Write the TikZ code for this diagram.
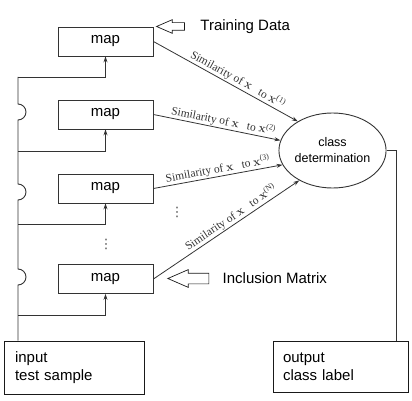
\documentclass[tikz,border=0pt]{standalone}
\usepackage[no-math]{fontspec}
\setmainfont{Liberation Sans}
\newfontfamily\simfont{Liberation Serif}
\newfontfamily\symfont{DejaVu Sans}
\usetikzlibrary{positioning, shapes.geometric, shapes.arrows, arrows.meta}

\newcommand{\simto}[1]{Similarity of $\mathbf{x}$\ \ \ to $\mathbf{x}$\textsuperscript{(#1)}}

\begin{document}
\begin{tikzpicture}[
        x=1pt, y=-1pt,
        every node/.style={font=\fontsize{15}{18}\selectfont},
        mapbox/.style={draw=black!80, line width=0.9pt, minimum width=95pt, minimum height=29pt, inner sep=0pt},
        iobox/.style={draw=black!90, line width=0.9pt, minimum width=140pt, minimum height=53pt, inner xsep=11pt, text width=118pt, align=left},
        hollow/.style={single arrow, draw=black!90, line width=0.7pt, shape border rotate=180, inner xsep=0pt, single arrow tip angle=47},
        arrow/.style={-{Stealth[length=6pt, width=4pt]}, line width=0.8pt, black!80},
        wire/.style={line width=0.9pt, black!80},
        simlabel/.style={font=\simfont\fontsize{11.5}{13}\selectfont, sloped, above, inner sep=1pt},
        dots/.style={font=\symfont\fontsize{13}{13}\selectfont, text=black!70, inner sep=0pt}
    ]
    \useasboundingbox (0,0) rectangle (412,401);

    % Nodes -----------------------------------------------
    \node[mapbox] (map1) at (105.5,41.5)  {map};
    \node[mapbox] (map2) at (105.5,114.5) {map};
    \node[mapbox] (map3) at (105.5,188.5) {map};
    \node[mapbox] (map4) at (105.5,279)   {map};
    \node[ellipse, draw=black!80, line width=0.9pt, minimum width=89pt, minimum height=75pt,
          inner sep=0pt, align=center, font=\fontsize{12.5}{16}\selectfont] (cls) at (332.5,150.5) {class\\determination};
    \node[iobox] (input) at (74,367.5) {input\\test sample};
    \node[iobox, minimum width=135pt, minimum height=51pt, inner xsep=10pt, text width=115pt] (output) at (340.5,366.5) {output\\class label};

    \node[hollow, minimum height=28pt, minimum width=13pt, inner ysep=3.5pt, single arrow head extend=3pt] (trainarrow) at (175,26.5) {};
    \node[right=12pt of trainarrow] (train) {Training Data};
    \node[hollow, minimum height=41pt, minimum width=17pt, inner ysep=5pt, single arrow head extend=3.5pt] (inclarrow) at (194.5,278.5) {};
    \node[right=10pt of inclarrow] (incl) {Inclusion Matrix};

    \node[dots] (vdots1) at (106,244) {⋮};
    \node[dots] (vdots2) at (177,212) {⋮};

    % input bus with hops
    \coordinate (b1) at (18,77);
    \coordinate (b2) at (18,151);
    \coordinate (b3) at (18,224);
    \coordinate (b4) at (18,315);
    \coordinate (hop1) at (18,104);
    \coordinate (hop2) at (18,184);
    \coordinate (hop3) at (18,269);

    \draw[wire] (b1) -- (hop1) arc[start angle=90, end angle=-90, radius=8pt]
                -- (hop2) arc[start angle=90, end angle=-90, radius=8pt]
                -- (hop3) arc[start angle=90, end angle=-90, radius=8pt]
                -- (b1 |- input.north);

    \draw[arrow] (b1) -| (map1.south);
    \draw[arrow] (b2) -| (map2.south);
    \draw[arrow] (b3) -| (map3.south);
    \draw[arrow] (b4) -| (map4.south);

    % similarities
    \draw[arrow] (map1.east) -- node[simlabel, pos=0.56] {\simto{1}} (cls.140);
    \draw[arrow] (map2.east) -- node[simlabel, pos=0.54] {\simto{2}} (cls.169);
    \draw[arrow] (map3.east) -- node[simlabel, pos=0.51] {\simto{3}} (cls.196);
    \draw[arrow] (map4.east) -- node[simlabel, pos=0.56] {\simto{N}} (cls.222);

    % result
    \draw[wire] (cls.east) -| ([xshift=55.5pt]output.north);
\end{tikzpicture}
\end{document}
